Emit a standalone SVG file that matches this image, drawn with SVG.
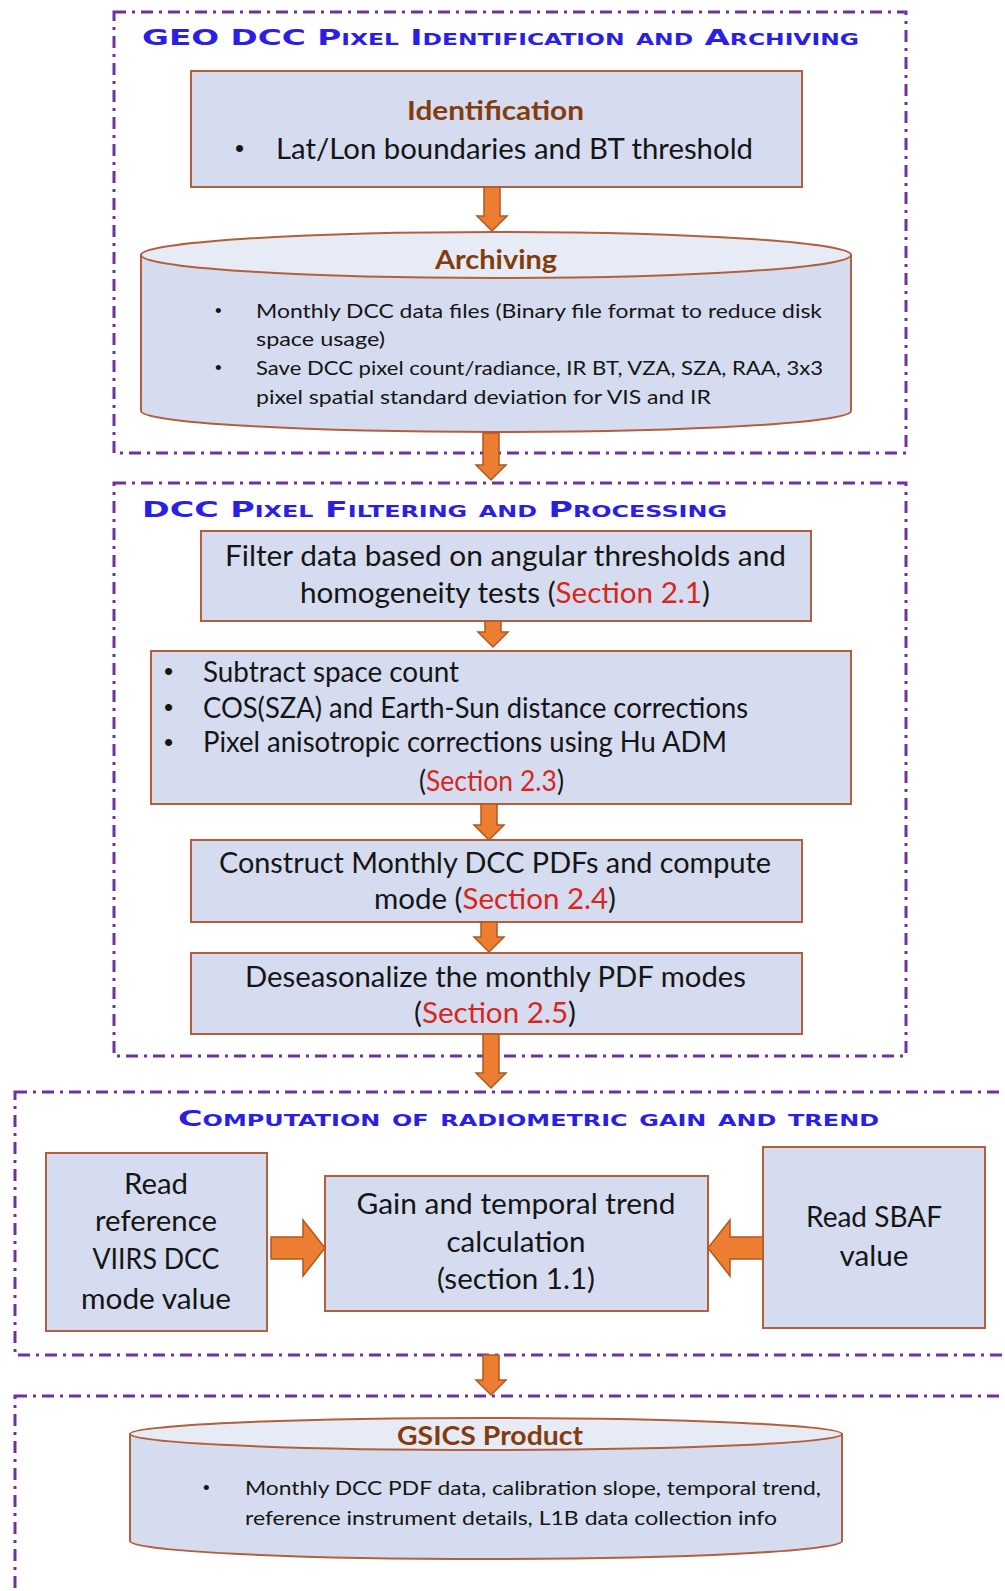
<svg xmlns="http://www.w3.org/2000/svg" width="1005" height="1591" viewBox="0 0 1005 1591">
<style>
.frame{fill:none;stroke:#7030a0;stroke-width:3;stroke-dasharray:12 6 3 6}
.title{font-family:"DejaVu Sans",sans-serif;font-weight:bold;font-variant:small-caps;fill:#2b1fe6;font-size:21px}
.box{fill:#d6dcef;stroke:#b45f3c;stroke-width:2}
.cyl{fill:#d6dcef;stroke:#b45f3c;stroke-width:2}
.cyltop{fill:#e7ebf6;stroke:#b45f3c;stroke-width:2}
.t{font-family:Lato,"Liberation Sans",sans-serif;fill:#151515;font-size:28px}
.s{font-family:Lato,"Liberation Sans",sans-serif;fill:#151515;font-size:19px}
.b{font-family:"Liberation Sans",sans-serif;fill:#151515;font-size:26px}
.bs{font-family:"Liberation Sans",sans-serif;fill:#151515;font-size:19px}
.h{font-family:Lato,"Liberation Sans",sans-serif;fill:#843c0c;font-size:27px;font-weight:bold}
.red{fill:#d9261c}
.arrow{fill:#ed7d31;stroke:#ae5a21;stroke-width:1.5}
</style>
<rect width="1005" height="1591" fill="#ffffff"/>
<g id="frames">
<rect class="frame" x="114" y="12" width="792" height="441"/>
<rect class="frame" x="114" y="483" width="792" height="573"/>
<rect class="frame" x="15" y="1092" width="1010" height="263"/>
<rect class="frame" x="15" y="1396" width="1010" height="220"/>
<text class="title" x="142" y="45" textLength="717" lengthAdjust="spacingAndGlyphs">GEO DCC Pixel Identification and Archiving</text>
<text class="title" x="142" y="517" textLength="585" lengthAdjust="spacingAndGlyphs">DCC Pixel Filtering and Processing</text>
<text class="title" x="178" y="1126" textLength="701" lengthAdjust="spacingAndGlyphs">Computation of radiometric gain and trend</text>
</g>
<g id="identification">
<rect class="box" x="191" y="71" width="611" height="116"/>
<text class="h" x="407" y="120" textLength="177" lengthAdjust="spacingAndGlyphs">Identification</text>
<text class="b" x="235" y="157">•</text>
<text class="t" x="276" y="159" textLength="477" lengthAdjust="spacingAndGlyphs">Lat/Lon boundaries and BT threshold</text>
</g>
<g id="archiving">
<path class="cyl" d="M141,255 L141,411 A355,21 0 0 0 851,411 L851,255 Z"/>
<ellipse class="cyltop" cx="496" cy="255" rx="355" ry="23"/>
<text class="h" x="435" y="269" textLength="122" lengthAdjust="spacingAndGlyphs">Archiving</text>
<text class="bs" x="215" y="317">•</text>
<text class="s" x="256" y="318" textLength="566" lengthAdjust="spacingAndGlyphs">Monthly DCC data files (Binary file format to reduce disk</text>
<text class="s" x="256" y="346" textLength="129" lengthAdjust="spacingAndGlyphs">space usage)</text>
<text class="bs" x="215" y="374">•</text>
<text class="s" x="256" y="375" textLength="567" lengthAdjust="spacingAndGlyphs">Save DCC pixel count/radiance, IR BT, VZA, SZA, RAA, 3x3</text>
<text class="s" x="256" y="404" textLength="455" lengthAdjust="spacingAndGlyphs">pixel spatial standard deviation for VIS and IR</text>
</g>
<g id="filter">
<rect class="box" x="201" y="531" width="610" height="90"/>
<text class="t" x="225" y="566" textLength="561" lengthAdjust="spacingAndGlyphs">Filter data based on angular thresholds and</text>
<text class="t" x="300" y="603" textLength="410" lengthAdjust="spacingAndGlyphs">homogeneity tests (<tspan class="red">Section 2.1</tspan>)</text>
</g>
<g id="corrections">
<rect class="box" x="151" y="651" width="700" height="153"/>
<text class="b" x="164" y="680">•</text>
<text class="t" x="203" y="682" textLength="256" lengthAdjust="spacingAndGlyphs">Subtract space count</text>
<text class="b" x="164" y="716">•</text>
<text class="t" x="203" y="718" textLength="545" lengthAdjust="spacingAndGlyphs">COS(SZA) and Earth-Sun distance corrections</text>
<text class="b" x="164" y="751">•</text>
<text class="t" x="203" y="752" textLength="524" lengthAdjust="spacingAndGlyphs">Pixel anisotropic corrections using Hu ADM</text>
<text class="t" x="419" y="791" font-size="26" textLength="145" lengthAdjust="spacingAndGlyphs">(<tspan class="red">Section 2.3</tspan>)</text>
</g>
<g id="construct">
<rect class="box" x="191" y="840" width="611" height="82"/>
<text class="t" x="219" y="873" textLength="552" lengthAdjust="spacingAndGlyphs">Construct Monthly DCC PDFs and compute</text>
<text class="t" x="374" y="909" textLength="242" lengthAdjust="spacingAndGlyphs">mode (<tspan class="red">Section 2.4</tspan>)</text>
</g>
<g id="deseasonalize">
<rect class="box" x="191" y="953" width="611" height="81"/>
<text class="t" x="245" y="987" textLength="501" lengthAdjust="spacingAndGlyphs">Deseasonalize the monthly PDF modes</text>
<text class="t" x="414" y="1023" textLength="162" lengthAdjust="spacingAndGlyphs">(<tspan class="red">Section 2.5</tspan>)</text>
</g>
<g id="read-reference">
<rect class="box" x="46" y="1153" width="221" height="178"/>
<text class="t" x="156" y="1194" text-anchor="middle" textLength="64" lengthAdjust="spacingAndGlyphs">Read</text>
<text class="t" x="156" y="1231" text-anchor="middle" textLength="122" lengthAdjust="spacingAndGlyphs">reference</text>
<text class="t" x="156" y="1269" text-anchor="middle" textLength="127" lengthAdjust="spacingAndGlyphs">VIIRS DCC</text>
<text class="t" x="156" y="1309" text-anchor="middle" textLength="150" lengthAdjust="spacingAndGlyphs">mode value</text>
</g>
<g id="gain">
<rect class="box" x="325" y="1176" width="383" height="135"/>
<text class="t" x="516" y="1214" text-anchor="middle" textLength="319" lengthAdjust="spacingAndGlyphs">Gain and temporal trend</text>
<text class="t" x="516" y="1252" text-anchor="middle" textLength="139" lengthAdjust="spacingAndGlyphs">calculation</text>
<text class="t" x="516" y="1289" text-anchor="middle" textLength="158" lengthAdjust="spacingAndGlyphs">(section 1.1)</text>
</g>
<g id="read-sbaf">
<rect class="box" x="763" y="1147" width="222" height="181"/>
<text class="t" x="874" y="1227" text-anchor="middle" textLength="136" lengthAdjust="spacingAndGlyphs">Read SBAF</text>
<text class="t" x="874" y="1266" text-anchor="middle" textLength="69" lengthAdjust="spacingAndGlyphs">value</text>
</g>
<g id="gsics">
<path class="cyl" d="M130,1434 L130,1541 A356,18 0 0 0 842,1541 L842,1434 Z"/>
<ellipse class="cyltop" cx="486" cy="1434" rx="356" ry="16"/>
<text class="h" x="397" y="1445" textLength="186" lengthAdjust="spacingAndGlyphs">GSICS Product</text>
<text class="bs" x="203" y="1494">•</text>
<text class="s" x="245" y="1495" textLength="576" lengthAdjust="spacingAndGlyphs">Monthly DCC PDF data, calibration slope, temporal trend,</text>
<text class="s" x="245" y="1525" textLength="532" lengthAdjust="spacingAndGlyphs">reference instrument details, L1B data collection info</text>
</g>
<g id="connectors">
<polygon class="arrow" points="484,187 500,187 500,216 507,216 492,231 477,216 484,216"/>
<polygon class="arrow" points="483,433 499,433 499,465 506,465 491,480 476,465 483,465"/>
<polygon class="arrow" points="485,621 501,621 501,632 508,632 493,647 478,632 485,632"/>
<polygon class="arrow" points="481,804 497,804 497,825 504,825 489,840 474,825 481,825"/>
<polygon class="arrow" points="481,922 497,922 497,937 504,937 489,952 474,937 481,937"/>
<polygon class="arrow" points="483,1034 499,1034 499,1073 506,1073 491,1088 476,1073 483,1073"/>
<polygon class="arrow" points="483,1355 499,1355 499,1380 506,1380 491,1395 476,1380 483,1380"/>
<polygon class="arrow" points="271,1237 303,1237 303,1220 325,1248 303,1276 303,1259 271,1259"/>
<polygon class="arrow" points="763,1237 730,1237 730,1220 708,1248 730,1276 730,1259 763,1259"/>
</g>
</svg>
